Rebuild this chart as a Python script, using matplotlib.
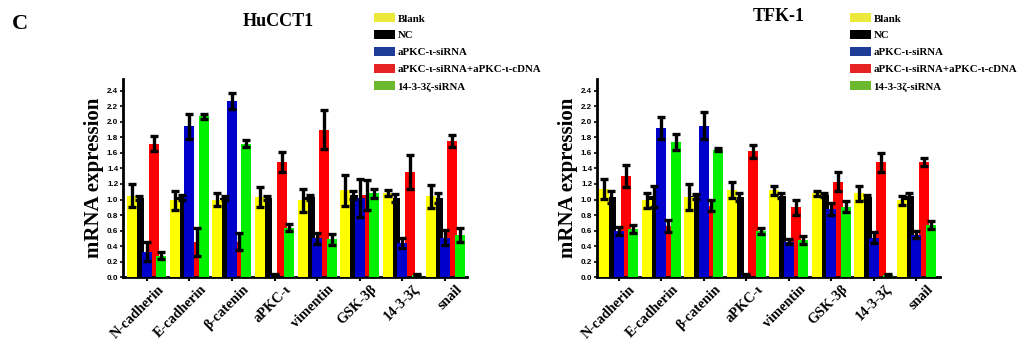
import numpy as np
import matplotlib
matplotlib.use("Agg")
import matplotlib.pyplot as plt
from matplotlib.patches import Patch
import matplotlib.transforms as mtransforms

genes = ['N-cadherin', 'E-cadherin', 'β-catenin', 'aPKC-ι', 'vimentin', 'GSK-3β', '14-3-3ζ', 'snail']
series = ['Blank', 'NC', 'aPKC-ι-siRNA', 'aPKC-ι-siRNA+aPKC-ι-cDNA', '14-3-3ζ-siRNA']

# HuCCT1
hu_blank = [1.05, 0.99, 1.00, 1.03, 0.99, 1.12, 1.08, 1.04]
hu_blank_err = [0.15, 0.12, 0.08, 0.13, 0.15, 0.20, 0.04, 0.15]
hu_nc = [1.02, 1.03, 1.02, 1.02, 1.03, 1.06, 1.02, 1.02]
hu_nc_err = [0.03, 0.03, 0.03, 0.03, 0.03, 0.05, 0.05, 0.06]
hu_si = [0.33, 1.94, 2.27, 0.03, 0.50, 1.02, 0.44, 0.51]
hu_si_err = [0.12, 0.16, 0.10, 0.01, 0.07, 0.25, 0.06, 0.10]
hu_cdna = [1.72, 0.45, 0.46, 1.48, 1.90, 1.06, 1.35, 1.75]
hu_cdna_err = [0.10, 0.18, 0.11, 0.13, 0.25, 0.19, 0.22, 0.08]
hu_z = [0.28, 2.07, 1.72, 0.64, 0.49, 1.08, 0.03, 0.55]
hu_z_err = [0.04, 0.03, 0.05, 0.05, 0.07, 0.06, 0.01, 0.09]

# TFK-1
tf_blank = [1.14, 0.99, 1.03, 1.12, 1.12, 1.08, 1.08, 0.99]
tf_blank_err = [0.13, 0.10, 0.17, 0.10, 0.06, 0.03, 0.10, 0.06]
tf_nc = [1.03, 1.04, 1.04, 1.03, 1.05, 1.06, 1.03, 1.05]
tf_nc_err = [0.08, 0.13, 0.03, 0.05, 0.03, 0.03, 0.03, 0.03]
tf_si = [0.60, 1.92, 1.95, 0.03, 0.46, 0.88, 0.51, 0.55]
tf_si_err = [0.05, 0.14, 0.17, 0.01, 0.03, 0.08, 0.07, 0.05]
tf_cdna = [1.30, 0.66, 0.92, 1.62, 0.90, 1.23, 1.48, 1.48]
tf_cdna_err = [0.14, 0.08, 0.07, 0.08, 0.10, 0.12, 0.12, 0.05]
tf_z = [0.62, 1.74, 1.64, 0.60, 0.48, 0.91, 0.03, 0.67]
tf_z_err = [0.05, 0.10, 0.02, 0.04, 0.05, 0.07, 0.01, 0.05]

bar_colors = ['#ffff00', '#000000', '#0000cc', '#ff0000', '#00f000']
legend_colors = ['#ece83c', '#000000', '#1f3d96', '#e42322', '#6cb92f']
yticks = [0.0, 0.2, 0.4, 0.6, 0.8, 1.0, 1.2, 1.4, 1.6, 1.8, 2.0, 2.2, 2.4]

SERIF = 'Liberation Serif'
SANS = 'Liberation Sans'

fig = plt.figure(figsize=(10.17, 3.39), dpi=100)


def panel(rect, vals, errs, xlim):
    ax = fig.add_axes(rect)
    x = np.arange(len(genes))
    step = 0.17
    width = 0.235
    zorders = [3, 2, 3, 2, 3]
    for i, (v, e) in enumerate(zip(vals, errs)):
        pos = x + (i - 2) * step
        ax.bar(pos, v, width=width, color=bar_colors[i], edgecolor='none', zorder=zorders[i])
        ax.errorbar(pos, v, yerr=e, fmt='none', ecolor='black', elinewidth=2.4,
                    capsize=3.2, capthick=2.4, zorder=5)
    ax.set_xlim(*xlim)
    ax.set_ylim(0, 2.55)
    ax.set_yticks(yticks)
    ax.set_yticklabels(['%.1f' % t for t in yticks], fontfamily=SANS, fontweight='bold', fontsize=5.8)
    ax.set_xticks(x)
    ax.set_xticklabels([])
    base = mtransforms.blended_transform_factory(ax.transData, ax.transAxes)
    off = mtransforms.ScaledTranslation(15 / 100, -10 / 100, fig.dpi_scale_trans)
    for xi, g in zip(x, genes):
        ax.text(xi, 0, g, transform=base + off, rotation=45, ha='right', va='center',
                rotation_mode='anchor', fontfamily=SERIF, fontweight='bold', fontsize=10.3,
                clip_on=False)
    for s in ['top', 'right']:
        ax.spines[s].set_visible(False)
    for s in ['left', 'bottom']:
        ax.spines[s].set_linewidth(2.0)
    ax.tick_params(axis='y', length=2.5, width=1.2, pad=1)
    ax.tick_params(axis='x', length=3, width=1.5, pad=2)
    ax.set_ylabel('mRNA expression', fontfamily=SERIF, fontweight='bold', fontsize=15, labelpad=2)
    return ax


ax1 = panel([0.121, 0.182, 0.338, 0.585],
            [hu_blank, hu_nc, hu_si, hu_cdna, hu_z],
            [hu_blank_err, hu_nc_err, hu_si_err, hu_cdna_err, hu_z_err],
            (-0.555, 7.51))
ax2 = panel([0.587, 0.182, 0.337, 0.585],
            [tf_blank, tf_nc, tf_si, tf_cdna, tf_z],
            [tf_blank_err, tf_nc_err, tf_si_err, tf_cdna_err, tf_z_err],
            (-0.507, 7.55))

fig.text(0.012, 0.93, 'C', fontfamily=SERIF, fontweight='bold', fontsize=16, va='center', ha='left')
fig.text(0.274, 0.937, 'HuCCT1', fontfamily=SERIF, fontweight='bold', fontsize=13, va='center', ha='center')
fig.text(0.766, 0.95, 'TFK-1', fontfamily=SERIF, fontweight='bold', fontsize=13, va='center', ha='center')

handles = [Patch(facecolor=c, edgecolor='none') for c in legend_colors]
for xa in [0.361, 0.829]:
    fig.legend(handles, series, loc='upper left', bbox_to_anchor=(xa, 0.98),
               frameon=False, prop={'family': SERIF, 'weight': 'bold', 'size': 7.8},
               handlelength=2.0, handleheight=0.9, handletextpad=0.2, labelspacing=0.62,
               borderpad=0.6, borderaxespad=0.0)

fig.savefig('out.png', dpi=100)
